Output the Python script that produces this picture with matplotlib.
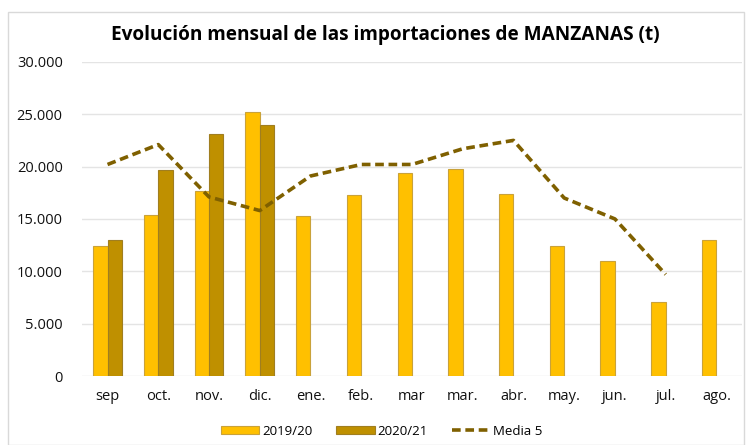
import numpy as np
import matplotlib.pyplot as plt
from matplotlib.patches import Rectangle
from matplotlib.ticker import FuncFormatter

meses = ['sep', 'oct.', 'nov.', 'dic.', 'ene.', 'feb.', 'mar', 'mar.', 'abr.', 'may.', 'jun.', 'jul.', 'ago.']
v_1920 = [12400, 15400, 17700, 25200, 15300, 17300, 19400, 19800, 17400, 12400, 11000, 7100, 13000]
v_2021 = [13000, 19700, 23100, 24000]
media5 = [20200, 22100, 17100, 15800, 19100, 20200, 20200, 21700, 22500, 17000, 15000, 9700]

plt.rcParams['font.family'] = ['Open Sans', 'DejaVu Sans']

fig = plt.figure(figsize=(7.47, 4.45), dpi=100)
ax = fig.add_axes([0.110, 0.155, 0.883, 0.706])

x = np.arange(len(meses))
w = 0.285
b1 = ax.bar(x - w / 2, v_1920, w, color='#FFC000', edgecolor='#C9A23A', linewidth=0.8, label='2019/20', zorder=3)
b2 = ax.bar(x[:len(v_2021)] + w / 2, v_2021, w, color='#BF9000', edgecolor='#A07E20', linewidth=0.8, label='2020/21', zorder=3)
l1, = ax.plot(x[:len(media5)], media5, color='#7F6000', linestyle=(0, (2.4, 1.3)), linewidth=2.6, label='Media 5', zorder=4)

ax.set_xlim(-0.5, len(meses) - 0.5)
ax.set_ylim(0, 30000)
ax.set_yticks(range(0, 30001, 5000))
ax.yaxis.set_major_formatter(FuncFormatter(lambda v, p: '0' if v == 0 else f'{int(v):,}'.replace(',', '.')))
ax.set_xticks(x)
ax.set_xticklabels(meses)
ax.grid(axis='y', color='#E4E4E4', linewidth=1, zorder=0)
for s in ax.spines.values():
    s.set_visible(False)
ax.tick_params(length=0, labelsize=10.5, colors='#111111')
ax.tick_params(axis='x', pad=9)
ax.tick_params(axis='y', pad=14)

fig.text(0.516, 0.922, 'Evolución mensual de las importaciones de MANZANAS (t)',
         ha='center', va='center', fontsize=13.7, fontweight='bold')

fig.legend(handles=[b1, b2, l1], loc='lower center', bbox_to_anchor=(0.511, -0.01), ncol=3, frameon=False,
           fontsize=9.5, handlelength=2.9, handleheight=0.6, columnspacing=1.8, handletextpad=0.25)

fig.patches.append(Rectangle((0.011, 0.0), 0.985, 0.972, transform=fig.transFigure,
                             fill=False, edgecolor='#D9D9D9', linewidth=1))

fig.savefig('out.png', dpi=100)
